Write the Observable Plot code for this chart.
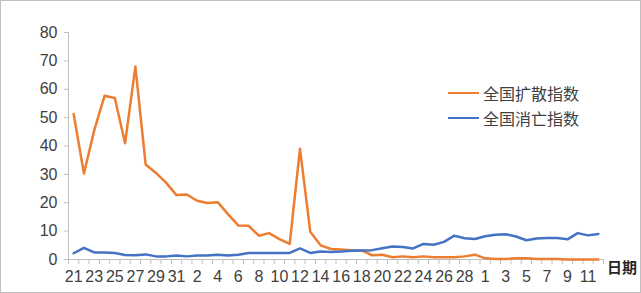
<!DOCTYPE html>
<html>
<head>
<meta charset="utf-8">
<script src="https://cdn.jsdelivr.net/npm/d3@7"></script>
<script src="https://cdn.jsdelivr.net/npm/@observablehq/plot@0.6"></script>
<style>
  html, body { margin: 0; padding: 0; background: #fff; }
  #wrap { position: relative; width: 641px; height: 293px; overflow: hidden; font-family: "Liberation Sans", "Noto Sans CJK SC", sans-serif; }
  #frame { position: absolute; left: 0; top: 0; width: 641px; height: 293px; box-sizing: border-box; border: 1px solid #bfbfbf; pointer-events: none; }
  .leg { position: absolute; left: 448px; display: flex; align-items: center; font-size: 16px; color: #404040; font-family: "Noto Sans CJK SC", sans-serif; white-space: nowrap; }
  .leg span.sw { display: inline-block; width: 31px; height: 0; border-top: 2.5px solid; margin-right: 4px; }
  #xlab { position: absolute; left: 607px; top: 256px; font-size: 15px; font-weight: bold; color: #262626; font-family: "Noto Sans CJK SC", sans-serif; }
</style>
</head>
<body>
<div id="wrap"></div>
<script>
// Day-of-month labels: Jan 21 – Jan 31, Feb 1 – Feb 29 (2020), Mar 1 – Mar 12
const days = [21,22,23,24,25,26,27,28,29,30,31,
  1,2,3,4,5,6,7,8,9,10,11,12,13,14,15,16,17,18,19,20,21,22,23,24,25,26,27,28,29,
  1,2,3,4,5,6,7,8,9,10,11,12];

const seriesNames = ["全国扩散指数", "全国消亡指数"];
const seriesColors = ["#ED7D31", "#4472C4"];

const spread = [51.3,30.3,45.5,57.7,56.9,41.0,68.0,33.5,30.5,27.0,22.7,
  22.9,20.7,19.9,20.2,16.0,12.0,11.9,8.4,9.3,7.2,5.5,39.0,9.8,5.0,3.7,3.5,3.3,3.2,1.5,1.7,0.8,1.1,0.8,1.1,0.8,0.8,0.8,1.1,1.7,
  0.4,0.2,0.2,0.4,0.4,0.2,0.2,0.2,0.0,0.0,0.0,0.0];

const decline = [2.2,4.1,2.5,2.5,2.3,1.6,1.5,1.8,1.1,1.1,1.4,
  1.1,1.4,1.4,1.7,1.4,1.7,2.3,2.3,2.3,2.3,2.3,3.9,2.3,2.8,2.6,2.8,3.1,3.2,3.3,4.0,4.6,4.4,3.9,5.5,5.2,6.2,8.4,7.5,7.2,
  8.2,8.7,8.9,8.1,6.8,7.4,7.6,7.6,7.1,9.3,8.5,9.0];

const yTicks = [0,10,20,30,40,50,60,70,80];

const idx = days.map((d, i) => i);
const rows = [
  ...spread.map((v, i) => ({i, v, s: seriesNames[0]})),
  ...decline.map((v, i) => ({i, v, s: seriesNames[1]}))
];

const axisColor = "#bfbfbf";
const textColor = "#404040";

const chart = Plot.plot({
  width: 641,
  height: 293,
  marginLeft: 68,
  marginRight: 38,
  marginTop: 32,
  marginBottom: 34,
  style: { fontFamily: "'Liberation Sans', 'Noto Sans CJK SC', sans-serif", fontSize: "16px", color: textColor, background: "transparent" },
  x: { type: "linear", domain: [-0.5, days.length - 0.5] },
  y: { domain: [0, 80] },
  color: { domain: seriesNames, range: seriesColors },
  marks: [
    Plot.ruleX([-0.5], { stroke: axisColor }),
    Plot.axisY({ ticks: yTicks, tickSize: 4, tickPadding: 7, label: null, stroke: axisColor, fill: textColor }),
    Plot.axisX({ ticks: d3.range(-0.5, days.length, 1), tickFormat: () => "", tickSize: 5, label: null, stroke: axisColor }),
    Plot.axisX({ ticks: idx.filter(i => i % 2 === 0), tickFormat: i => String(days[i]), tickSize: 0, tickPadding: 11, label: null, fill: textColor }),
    Plot.ruleY([0], { stroke: axisColor }),
    Plot.line(rows, { x: "i", y: "v", z: "s", stroke: "s", strokeWidth: 2.5, strokeLinejoin: "round", strokeLinecap: "round" })
  ]
});

const wrap = document.getElementById("wrap");
wrap.appendChild(chart);

// Legend
seriesNames.forEach((name, k) => {
  const d = document.createElement("div");
  d.className = "leg";
  d.style.top = (81 + k * 25) + "px";
  d.innerHTML = `<span class="sw" style="border-color:${seriesColors[k]}"></span><span>${name}</span>`;
  wrap.appendChild(d);
});

const xl = document.createElement("div");
xl.id = "xlab";
xl.textContent = "日期";
wrap.appendChild(xl);

const fr = document.createElement("div");
fr.id = "frame";
wrap.appendChild(fr);
</script>
</body>
</html>
